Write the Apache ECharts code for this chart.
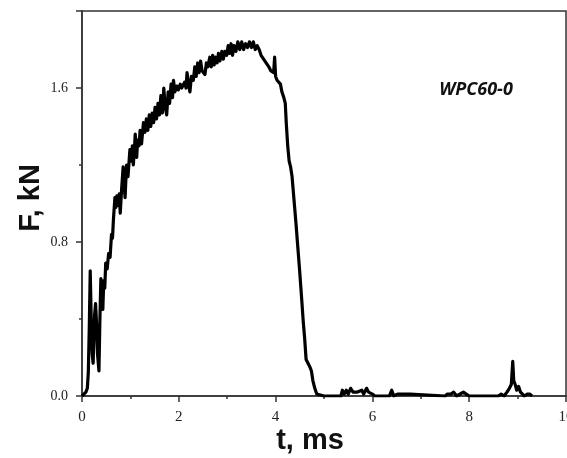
<!DOCTYPE html>
<html>
<head>
<meta charset="utf-8">
<script src="https://cdn.jsdelivr.net/npm/echarts@6/dist/echarts.min.js"></script>
<style>html,body{margin:0;padding:0;background:#fff;}#c{width:567px;height:458px;}</style>
</head>
<body>
<div id="c"></div>
<script>
// time (ms)
var tValues = [0,0.04,0.08,0.11,0.13,0.15,0.17,0.19,0.21,0.23,0.26,0.28,0.30,0.32,0.35,0.37,0.39,0.41,0.43,0.45,0.47,0.49,0.52,0.55,0.58,0.61,0.63,0.65,0.68,0.70,0.72,0.75,0.77,0.79,0.82,0.85,0.87,0.89,0.92,0.95,0.99,1.02,1.04,1.06,1.08,1.10,1.13,1.15,1.18,1.20,1.23,1.27,1.30,1.33,1.36,1.39,1.42,1.45,1.48,1.51,1.54,1.57,1.60,1.63,1.66,1.69,1.72,1.75,1.78,1.81,1.84,1.87,1.89,1.92,1.96,1.99,2.03,2.06,2.09,2.12,2.15,2.17,2.20,2.23,2.26,2.30,2.33,2.36,2.39,2.42,2.45,2.48,2.51,2.54,2.57,2.60,2.64,2.67,2.70,2.73,2.76,2.79,2.82,2.85,2.89,2.92,2.95,2.99,3.02,3.05,3.08,3.11,3.14,3.18,3.22,3.26,3.30,3.34,3.38,3.42,3.46,3.50,3.54,3.58,3.62,3.66,3.70,3.74,3.78,3.82,3.86,3.90,3.93,3.96,3.98,4.00,4.03,4.07,4.10,4.13,4.17,4.20,4.22,4.25,4.28,4.31,4.34,4.38,4.42,4.46,4.50,4.54,4.57,4.60,4.63,4.67,4.71,4.74,4.77,4.81,4.85,4.89,5.00,5.35,5.38,5.42,5.46,5.50,5.55,5.60,5.63,5.68,5.72,5.78,5.82,5.88,5.92,5.96,6.00,6.05,6.35,6.40,6.44,6.52,6.58,6.62,6.70,6.78,6.82,7.50,7.55,7.62,7.68,7.74,7.88,7.94,8.00,8.60,8.66,8.72,8.78,8.83,8.87,8.90,8.92,8.95,8.98,9.02,9.06,9.10,9.14,9.20,9.25,9.30];
// force (kN)
var fValues = [0.00,0.01,0.02,0.04,0.12,0.35,0.65,0.40,0.22,0.17,0.42,0.48,0.38,0.22,0.13,0.40,0.61,0.52,0.45,0.60,0.56,0.69,0.66,0.74,0.72,0.84,0.82,0.92,1.03,0.98,1.04,0.99,1.05,0.95,1.08,1.19,1.10,1.03,1.20,1.14,1.28,1.22,1.30,1.20,1.27,1.36,1.24,1.33,1.30,1.38,1.31,1.42,1.37,1.44,1.38,1.46,1.40,1.47,1.42,1.50,1.44,1.52,1.46,1.56,1.47,1.60,1.50,1.46,1.58,1.52,1.62,1.55,1.64,1.58,1.61,1.59,1.62,1.60,1.61,1.63,1.60,1.68,1.62,1.58,1.66,1.64,1.71,1.66,1.73,1.68,1.74,1.69,1.70,1.67,1.73,1.71,1.76,1.71,1.77,1.72,1.76,1.73,1.78,1.74,1.79,1.75,1.79,1.77,1.82,1.78,1.83,1.77,1.82,1.79,1.84,1.80,1.84,1.80,1.83,1.81,1.84,1.81,1.84,1.80,1.82,1.80,1.77,1.76,1.74,1.73,1.71,1.69,1.69,1.68,1.76,1.66,1.64,1.63,1.62,1.58,1.55,1.52,1.42,1.30,1.22,1.19,1.14,1.02,0.90,0.77,0.64,0.50,0.39,0.30,0.19,0.17,0.15,0.13,0.08,0.04,0.01,0.00,0.00,0.00,0.03,0.01,0.03,0.01,0.04,0.02,0.01,0.02,0.01,0.03,0.01,0.04,0.02,0.03,0.01,0.00,0.00,0.03,0.00,0.01,0.01,0.00,0.01,0.01,0.00,0.00,0.01,0.01,0.02,0.00,0.02,0.01,0.00,0.00,0.01,0.00,0.02,0.04,0.06,0.18,0.08,0.06,0.03,0.05,0.02,0.01,0.00,0.01,0.01,0.00];
var xTicks = [0, 2, 4, 6, 8, 10];
var yTicks = [0.0, 0.8, 1.6];
var xTitle = 't, ms';
var yTitle = 'F, kN';
var sampleLabel = 'WPC60-0';

var pts = tValues.map(function (t, i) { return [t, fValues[i]]; });
var chart = echarts.init(document.getElementById('c'));
var axisCol = '#333';
chart.setOption({
  animation: false,
  backgroundColor: '#fff',
  grid: { left: 82, right: 1, top: 11, bottom: 62, containLabel: false, outerBoundsMode: 'none', show: true, borderColor: axisCol, borderWidth: 1.5, backgroundColor: 'transparent' },
  xAxis: {
    type: 'value', min: xTicks[0], max: xTicks[xTicks.length - 1], interval: xTicks[1] - xTicks[0],
    axisLine: { show: true, lineStyle: { color: axisCol, width: 1.5 } },
    axisTick: { show: true, inside: false, length: 6, lineStyle: { color: axisCol, width: 1.5 } },
    minorTick: { show: true, splitNumber: 2, length: 3, lineStyle: { color: axisCol, width: 1.5 } },
    splitLine: { show: false },
    axisLabel: { show: true, margin: 14, color: '#222', fontFamily: 'Liberation Serif', fontSize: 15, showMaxLabel: true, hideOverlap: false }
  },
  yAxis: {
    type: 'value', min: 0, max: 2.0, interval: yTicks[1] - yTicks[0],
    axisLine: { show: true, lineStyle: { color: axisCol, width: 1.5 } },
    axisTick: { show: true, inside: false, length: 6, lineStyle: { color: axisCol, width: 1.5 } },
    minorTick: { show: true, splitNumber: 2, length: 3, lineStyle: { color: axisCol, width: 1.5 } },
    splitLine: { show: false },
    axisLabel: { show: true, margin: 14, color: '#222', fontFamily: 'Liberation Serif', fontSize: 14, showMaxLabel: false,
      formatter: function (v) { return v.toFixed(1); } }
  },
  series: [{
    type: 'line', data: pts, showSymbol: false, smooth: false,
    lineStyle: { color: '#000', width: 3.2, join: 'round' }
  }],
  graphic: [
    { type: 'text', x: 310, y: 441, style: { text: xTitle, fill: '#111', font: 'bold 29px "Liberation Sans"', align: 'center', verticalAlign: 'middle' } },
    { type: 'text', x: 31, y: 198, rotation: Math.PI / 2, style: { text: yTitle, fill: '#111', font: 'bold 29px "Liberation Sans"', align: 'center', verticalAlign: 'middle' } },
    { type: 'text', x: 476, y: 90, style: { text: sampleLabel, fill: '#111', font: 'italic bold 18px "Open Sans"', align: 'center', verticalAlign: 'middle' } }
  ]
});
</script>
</body>
</html>
